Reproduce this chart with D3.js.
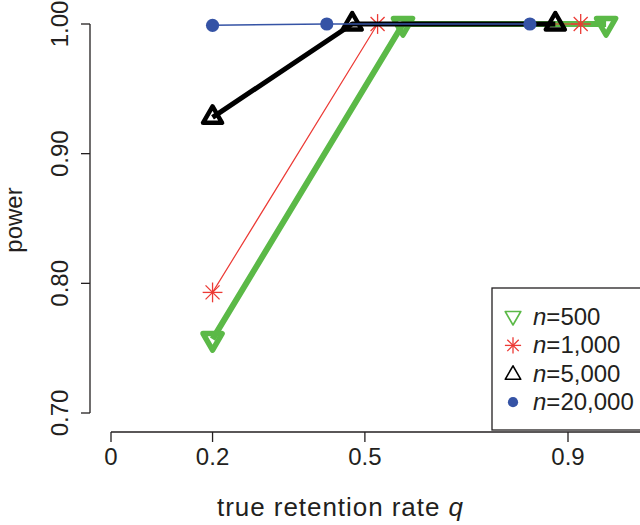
<!DOCTYPE html>
<html>
<head>
<meta charset="utf-8">
<script src="https://cdn.jsdelivr.net/npm/d3@7"></script>
<style>
  html, body { margin: 0; padding: 0; background: #fff; }
  svg { display: block; }
  text { font-family: "Liberation Sans", Arial, Helvetica, sans-serif; fill: #231f20; }
</style>
</head>
<body>
<svg id="chart" width="640" height="525"></svg>
<script>
// ---- data ----
const seriesNames = ["n=500", "n=1,000", "n=5,000", "n=20,000"];
const legendN = ["500", "1,000", "5,000", "20,000"];
const q500 = [0.2, 0.575, 0.975];
const q1000 = [0.2, 0.525, 0.925];
const q5000 = [0.2, 0.475, 0.875];
const q20000 = [0.2, 0.425, 0.825];
const power500 = [0.757, 1.0, 1.0];
const power1000 = [0.793, 1.0, 1.0];
const power5000 = [0.928, 1.0, 1.0];
const power20000 = [0.999, 1.0, 1.0];
const xTicks = [0, 0.2, 0.5, 0.9];
const xTickLabels = ["0", "0.2", "0.5", "0.9"];
const yTicks = [0.70, 0.80, 0.90, 1.00];
const yTickLabels = ["0.70", "0.80", "0.90", "1.00"];

// ---- styles ----
const styles = [
  { q: q500, p: power500, color: "#5bb947", lw: 6, shape: "down" },
  { q: q1000, p: power1000, color: "#ec3a35", lw: 1.2, shape: "star" },
  { q: q5000, p: power5000, color: "#000000", lw: 5, shape: "up" },
  { q: q20000, p: power20000, color: "#3553a5", lw: 1.5, shape: "dot" }
];

const svg = d3.select("#chart");
const x = d3.scaleLinear().domain([0, 0.9]).range([111, 568]);
const y = d3.scaleLinear().domain([0.70, 1.00]).range([413, 24]);
const FS = 24;

// axes
const xAxisG = svg.append("g").attr("transform", "translate(0,432)");
xAxisG.append("line").attr("x1", x(0)).attr("x2", 640).attr("y1", 0).attr("y2", 0)
  .attr("stroke", "#231f20").attr("stroke-width", 1.3);
xAxisG.selectAll("line.tick").data(xTicks).enter().append("line")
  .attr("class", "tick").attr("x1", d => x(d)).attr("x2", d => x(d))
  .attr("y1", 0).attr("y2", 10).attr("stroke", "#231f20").attr("stroke-width", 1.3);
xAxisG.selectAll("text").data(xTicks).enter().append("text")
  .attr("x", d => x(d)).attr("y", 33).attr("text-anchor", "middle")
  .attr("font-size", FS).text((d, i) => xTickLabels[i]);

const yAxisG = svg.append("g").attr("transform", "translate(90,0)");
yAxisG.append("line").attr("x1", 0).attr("x2", 0).attr("y1", y(0.70)).attr("y2", y(1.00))
  .attr("stroke", "#231f20").attr("stroke-width", 1.3);
yAxisG.selectAll("line.tick").data(yTicks).enter().append("line")
  .attr("class", "tick").attr("x1", 0).attr("x2", -9)
  .attr("y1", d => y(d)).attr("y2", d => y(d)).attr("stroke", "#231f20").attr("stroke-width", 1.3);
yAxisG.selectAll("text").data(yTicks).enter().append("text")
  .attr("transform", d => `translate(-22,${y(d)}) rotate(-90)`)
  .attr("text-anchor", "middle").attr("font-size", FS)
  .text((d, i) => yTickLabels[i]);

// axis titles
const xt = svg.append("text").attr("x", 340).attr("y", 516).attr("text-anchor", "middle")
  .attr("font-size", 26).attr("textLength", 246).attr("lengthAdjust", "spacing");
xt.append("tspan").text("true retention rate ");
xt.append("tspan").attr("font-style", "italic").text("q");

svg.append("text").attr("transform", "translate(22,220) rotate(-90)")
  .attr("text-anchor", "middle").attr("font-size", FS).text("power");

// marker drawer
function drawMarker(g, shape, cx, cy, size, color, lw) {
  if (shape === "dot") {
    g.append("circle").attr("cx", cx).attr("cy", cy).attr("r", size * 0.6).attr("fill", color);
  } else if (shape === "up" || shape === "down") {
    const r = size, xc = r * 0.866, yc = r * 0.5;
    const s = shape === "up" ? 1 : -1;
    const pts = [[cx, cy - s * r], [cx + xc, cy + s * yc], [cx - xc, cy + s * yc]];
    g.append("polygon").attr("points", pts.map(p => p.join(",")).join(" "))
      .attr("fill", "none").attr("stroke", color).attr("stroke-width", lw)
      .attr("stroke-linejoin", "round");
  } else if (shape === "star") {
    const a = size * 0.9, b = a * 0.7071;
    const segs = [[-a, 0, a, 0], [0, -a, 0, a], [-b, -b, b, b], [-b, b, b, -b]];
    segs.forEach(sg => g.append("line")
      .attr("x1", cx + sg[0]).attr("y1", cy + sg[1]).attr("x2", cx + sg[2]).attr("y2", cy + sg[3])
      .attr("stroke", color).attr("stroke-width", lw));
  }
}

// series
const line = d3.line().x(d => x(d[0])).y(d => y(d[1]));
styles.forEach(s => {
  const g = svg.append("g");
  const pts = s.q.map((q, i) => [q, s.p[i]]);
  g.append("path").attr("d", line(pts)).attr("fill", "none")
    .attr("stroke", s.color).attr("stroke-width", s.lw).attr("stroke-linejoin", "round");
  pts.forEach(p => {
    const cx = x(p[0]), cy = y(p[1]);
    if (s.shape === "dot") drawMarker(g, "dot", cx, cy, 11, s.color, 0);
    else if (s.shape === "star") drawMarker(g, "star", cx, cy, 11, s.color, 1.3);
    else drawMarker(g, s.shape, cx, cy, 11, s.color, s.lw - 0.5);
  });
});

// legend
const lg = svg.append("g");
lg.append("rect").attr("x", 492).attr("y", 288).attr("width", 160).attr("height", 142)
  .attr("fill", "#fff").attr("stroke", "#231f20").attr("stroke-width", 1.3);
styles.forEach((s, i) => {
  const by = 325 + i * 28.4;
  const cy = by - 8;
  if (s.shape === "dot") drawMarker(lg, "dot", 513, cy, 8.5, s.color, 0);
  else if (s.shape === "star") drawMarker(lg, "star", 513, cy, 9, s.color, 1.3);
  else drawMarker(lg, s.shape, 513, cy + (s.shape === "up" ? 1 : -1), 9, s.color, 1.6);
  const t = lg.append("text").attr("x", 533).attr("y", by).attr("font-size", FS);
  t.append("tspan").attr("font-style", "italic").text("n");
  t.append("tspan").text("=" + legendN[i]);
});
</script>
</body>
</html>
